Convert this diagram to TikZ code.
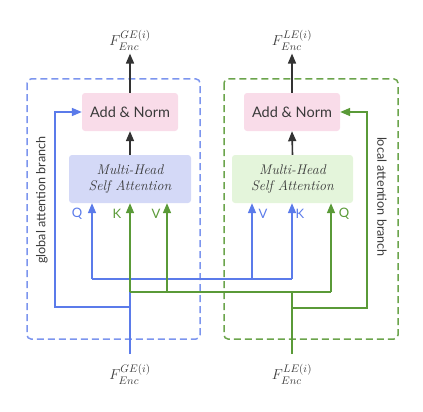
\documentclass[tikz,border=0pt]{standalone}
\usepackage{fontspec}
\setsansfont{Lato}
\usetikzlibrary{arrows.meta}
\definecolor{gblue}{HTML}{5B7BEA}
\definecolor{lgreen}{HTML}{5A9A38}
\definecolor{pinkfill}{HTML}{F9DCE9}
\definecolor{lavfill}{HTML}{D4D9F7}
\definecolor{greenfill}{HTML}{E4F5DB}
\definecolor{darkline}{HTML}{333333}
\definecolor{txtgray}{HTML}{3A3A3A}
\begin{document}
\begin{tikzpicture}[x=1pt,y=-1pt,
  tip/.style={-{Triangle[length=10pt,width=8pt]}},
  conn/.style={line width=1.6pt},
  bconn/.style={conn,draw=gblue},
  gconn/.style={conn,draw=lgreen},
  dconn/.style={conn,draw=darkline,tip},
  anbox/.style={fill=pinkfill,rounded corners=3pt,minimum width=96pt,minimum height=38pt,inner sep=0pt,
    font=\sffamily\fontsize{14.5}{16}\selectfont,text=txtgray},
  mhbox/.style={rounded corners=3pt,minimum width=122pt,minimum height=48pt,inner sep=0pt,align=center,
    font=\itshape\fontsize{14}{16}\selectfont,text=txtgray},
  qkv/.style={font=\sffamily\fontsize{13}{15}\selectfont},
  flabel/.style={text=txtgray,font=\fontsize{15}{17}\selectfont},
  dbox/.style={dashed,dash pattern=on 7pt off 4pt,line width=1.5pt,rounded corners=4pt},
  branch/.style={font=\sffamily\fontsize{12.6}{14}\selectfont,text=txtgray}
]
\useasboundingbox (0,0) rectangle (423,412);

% dashed branch boxes
\draw[dbox,draw=gblue!80] (27,79) rectangle (200,339);
\draw[dbox,draw=lgreen!90] (224,79) rectangle (398,339);

% nodes
\node[anbox] (anL) at (130,112) {Add \& Norm};
\node[anbox] (anR) at (292,112) {Add \& Norm};
\node[mhbox,fill=lavfill] (mhL) at (130,179) {Multi-Head\\Self Attention};
\node[mhbox,fill=greenfill,minimum width=121pt] (mhR) at (292.5,179) {Multi-Head\\Self Attention};

\node[flabel] (outL) at (130,40) {$F^{GE(i)}_{Enc}$};
\node[flabel] (outR) at (292,40) {$F^{LE(i)}_{Enc}$};
\node[flabel] (inL) at (130,374) {$F^{GE(i)}_{Enc}$};
\node[flabel] (inR) at (292,374) {$F^{LE(i)}_{Enc}$};

\node[branch,rotate=90] (brL) at (42,200) {global attention branch};
\node[branch,rotate=-90] (brR) at (382,197) {local attention branch};

\node[qkv,text=gblue] (qL) at (77,214) {Q};
\node[qkv,text=lgreen] (kL) at (117,214) {K};
\node[qkv,text=lgreen] (vL) at (156,214) {V};
\node[qkv,text=gblue] (vR) at (263,214) {V};
\node[qkv,text=gblue] (kR) at (300,214) {K};
\node[qkv,text=lgreen] (qR) at (344,214) {Q};

% coordinates
\coordinate (gIn) at (130,354);
\coordinate (lIn) at (292,354);
\coordinate (gTop) at (130,279);
\coordinate (gRes) at (130,307);
\coordinate (gResC) at (55,307);
\coordinate (gResU) at (55,112);
\coordinate (bQL) at (92,279);
\coordinate (bVR) at (252,279);
\coordinate (bKR) at (292,279);
\coordinate (lTop) at (292,292);
\coordinate (gKL) at (130,292);
\coordinate (gVL) at (167,292);
\coordinate (gQR) at (331,292);
\coordinate (lRes) at (292,308);
\coordinate (lResC) at (367,308);
\coordinate (lResU) at (367,112);

% output arrows
\draw[dconn] (anL.north) -- (outL.south);
\draw[dconn] (anR.north) -- (outR.south);
\draw[dconn] (mhL.north) -- (anL.south);
\draw[dconn] (mhR.north) -- (anR.south);

% global (blue) input
\draw[bconn] (gIn) -- (gTop);
\draw[bconn] (bQL) -- (bKR);
\draw[bconn,tip] (bQL) -- (bQL |- mhL.south);
\draw[bconn,tip] (bVR) -- (bVR |- mhR.south);
\draw[bconn,tip] (bKR) -- (bKR |- mhR.south);
\draw[bconn,tip] (gRes) -- (gResC) -- (gResU) -- (anL.west);

% local (green) input
\draw[gconn] (lIn) -- (lTop);
\draw[gconn] (gKL) -- (gQR);
\draw[gconn,tip] (gKL) -- (gKL |- mhL.south);
\draw[gconn,tip] (gVL) -- (gVL |- mhL.south);
\draw[gconn,tip] (gQR) -- (gQR |- mhR.south);
\draw[gconn,tip] (lRes) -- (lResC) -- (lResU) -- (anR.east);
\end{tikzpicture}
\end{document}
